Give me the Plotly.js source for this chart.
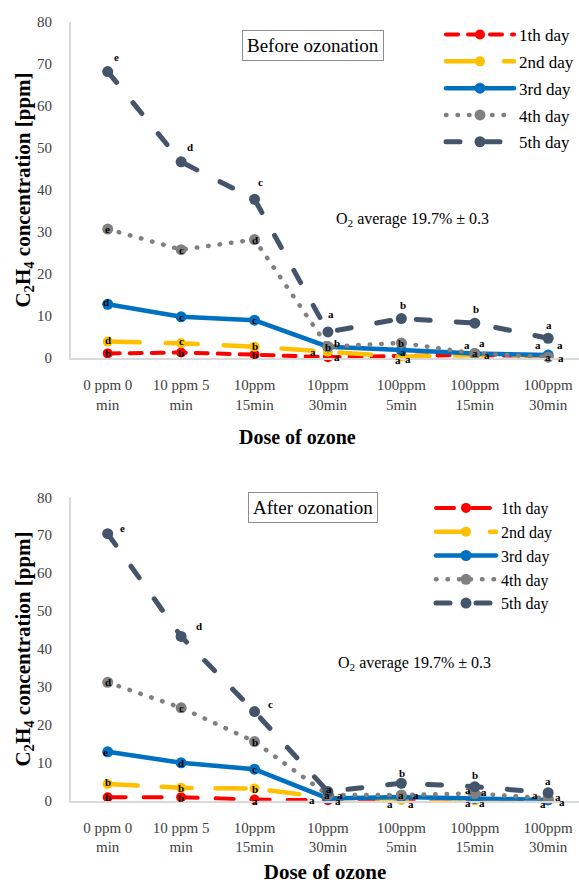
<!DOCTYPE html>
<html>
<head>
<meta charset="utf-8">
<script src="https://cdn.plot.ly/plotly-3.0.1.min.js"></script>
<style>html,body{margin:0;padding:0;background:#fff;overflow:hidden;}#chart{width:579px;height:884px;}</style>
</head>
<body>
<div id="chart"></div>
<script>
// ---------- DATA ----------
const categories = ['0 ppm 0<br>min', '10 ppm 5<br>min', '10ppm<br>15min', '10ppm<br>30min', '100ppm<br>5min', '100ppm<br>15min', '100ppm<br>30min'];
const seriesNames = ['1th day', '2nd day', '3rd day', '4th day', '5th day'];

// Before ozonation (C2H4 ppm)
const before1 = [1.1, 1.3, 0.8, 0.2, 0.5, 0.7, 0.5];
const before2 = [3.9, 3.5, 2.7, 1.5, 0.3, 0.7, 0.6];
const before3 = [12.8, 9.8, 9.0, 2.7, 1.9, 1.1, 0.7];
const before4 = [30.7, 25.8, 28.2, 2.7, 3.6, 1.1, 0.2];
const before5 = [68.2, 46.7, 37.8, 6.2, 9.4, 8.3, 4.7];

// After ozonation (C2H4 ppm)
const after1 = [0.9, 0.9, 0.3, 0.1, 0.3, 0.2, 0.2];
const after2 = [4.4, 3.4, 3.2, 0.8, 0.2, 0.1, 0.1];
const after3 = [12.9, 10.0, 8.3, 0.6, 1.0, 0.6, 0.2];
const after4 = [31.2, 24.5, 15.6, 1.5, 1.5, 1.9, 0.6];
const after5 = [70.4, 43.3, 23.5, 2.4, 4.6, 3.7, 2.1];

// Significance letters
const beforeLetters1 = ['b', 'b', 'b', 'a', 'a', 'a', 'a'];
const beforeLetters2 = ['d', 'c', 'b', 'a', 'a', 'a', 'a'];
const beforeLetters3 = ['d', 'c', 'c', 'b', 'a', 'a', 'a'];
const beforeLetters4 = ['e', 'c', 'd', 'b', 'b', 'a', 'a'];
const beforeLetters5 = ['e', 'd', 'c', 'a', 'b', 'b', 'a'];

const afterLetters1 = ['b', 'b', 'a', 'a', 'a', 'a', 'a'];
const afterLetters2 = ['b', 'b', 'b', 'a', 'a', 'a', 'a'];
const afterLetters3 = ['e', 'd', 'c', 'a', 'a', 'a', 'a'];
const afterLetters4 = ['d', 'c', 'b', 'a', 'a', 'a', 'a'];
const afterLetters5 = ['e', 'd', 'c', 'a', 'b', 'b', 'a'];

const yTickVals = [0, 10, 20, 30, 40, 50, 60, 70, 80];

// ---------- STYLE ----------
const FONT = 'Liberation Serif, Times New Roman, serif';
const W = 579, H = 884, ML = 71;
const px2x = p => (p - ML) / (W - ML);
const px2y = p => 1 - p / H;
const colors = ['#FF0000', '#FFC000', '#0070C0', '#808080', '#44546A'];
const widths = [4, 4.5, 4.5, 4.5, 5];
const dashesTop = ['12px,10px', '32px,26px', 'solid', '0.5px,11px', '14px,26px'];
const dashesBot = ['18px,18px', '30px,24px', 'solid', '0.5px,11px', '14px,26px'];
const markerSizes = [10, 10, 11, 11, 11];

// label offsets (px) relative to each marker, [dx, dy(up)]
const offTop = [
  [[0,0],[0,0],[0,0],[9,0],[7,-3],[12,0],[13,-2]],
  [[0,2],[0,2],[0,1],[-15,0],[-3,-3],[-8,10],[-10,10]],
  [[-2,2],[0,0],[0,0],[9,4],[2,-2],[7,10],[12,10]],
  [[0,0],[0,0],[0,0],[0,0],[0,0],[0,0],[0,0]],
  [[9,15],[9,15],[6,17],[3,18],[2,14],[1,14],[1,13]]
];
const offBot = [
  [[0,0],[0,-1],[0,-1],[-16,0],[10,-4],[-7,-3],[14,-2]],
  [[0,2],[0,0],[0,0],[10,-3],[-11,-4],[7,-3],[-5,-4]],
  [[-2,0],[0,0],[0,0],[12,3],[15,2],[9,6],[10,3]],
  [[0,0],[0,0],[0,0],[-1,0],[0,0],[-7,3],[-13,3]],
  [[15,6],[18,10],[16,8],[1,3],[1,10],[0,12],[0,12]]
];

const topSeries = [before1, before2, before3, before4, before5];
const botSeries = [after1, after2, after3, after4, after5];
const topLetters = [beforeLetters1, beforeLetters2, beforeLetters3, beforeLetters4, beforeLetters5];
const botLetters = [afterLetters1, afterLetters2, afterLetters3, afterLetters4, afterLetters5];

const traces = [];
function addTraces(series, xa, ya, legendId, dashes, suffix) {
  series.forEach((vals, i) => {
    traces.push({
      type: 'scatter', mode: 'lines+markers',
      x: categories, y: vals, xaxis: xa, yaxis: ya,
      name: seriesNames[i], legend: legendId, legendgroup: suffix + i,
      line: {color: colors[i], width: widths[i], dash: dashes[i]},
      marker: {color: colors[i], size: markerSizes[i], symbol: 'circle'},
      cliponaxis: false, hoverinfo: 'x+y'
    });
  });
}
addTraces(topSeries, 'x', 'y', 'legend', dashesTop, 't');
addTraces(botSeries, 'x2', 'y2', 'legend2', dashesBot, 'b');

const annotations = [];
function addLetters(series, letters, offs, xa, ya) {
  series.forEach((vals, i) => {
    vals.forEach((v, j) => {
      annotations.push({
        x: categories[j], y: v, xref: xa, yref: ya, text: '<b>' + letters[i][j] + '</b>',
        showarrow: false, xshift: offs[i][j][0], yshift: offs[i][j][1],
        font: {family: FONT, size: 11, color: '#000'}
      });
    });
  });
}
addLetters(topSeries, topLetters, offTop, 'x', 'y');
addLetters(botSeries, botLetters, offBot, 'x2', 'y2');

annotations.push(
  {xref: 'paper', yref: 'paper', x: px2x(313), y: px2y(30), text: 'Before ozonation', showarrow: false,
   font: {family: FONT, size: 19, color: '#000'}, bordercolor: '#8c8c8c', borderwidth: 1, borderpad: 4, bgcolor: '#fff'},
  {xref: 'paper', yref: 'paper', x: px2x(313), y: px2y(508), text: 'After ozonation', showarrow: false,
   font: {family: FONT, size: 19, color: '#000'}, bordercolor: '#8c8c8c', borderwidth: 1, borderpad: 4, bgcolor: '#fff'},
  {xref: 'paper', yref: 'paper', x: px2x(491), y: px2y(208), text: 'O<sub>2</sub> average 19.7% ± 0.3', showarrow: false,
   font: {family: FONT, size: 16, color: '#000'}},
  {xref: 'paper', yref: 'paper', x: px2x(493), y: px2y(675), text: 'O<sub>2</sub> average 19.7% ± 0.3', showarrow: false,
   font: {family: FONT, size: 16, color: '#000'}},
  {xref: 'paper', yref: 'paper', x: px2x(297), y: px2y(437), text: '<b>Dose of ozone</b>', showarrow: false,
   font: {family: FONT, size: 20, color: '#000'}}
);

function xAxis(anchor, title, size) {
  return {
    type: 'category', anchor: anchor, domain: [0, 1], range: [-0.5, 6.42],
    showline: true, linecolor: '#D9D9D9', linewidth: 2, showgrid: false, zeroline: false,
    ticks: '', ticklabelstandoff: 12,
    tickfont: {family: FONT, size: 15, color: '#404040'},
    title: {text: title, font: {family: FONT, size: size, color: '#000'}, standoff: 16}
  };
}
function yAxis(anchor, domain) {
  return {
    anchor: anchor, domain: domain, range: [0, 80], tickvals: yTickVals,
    showline: true, linecolor: '#D9D9D9', linewidth: 2, showgrid: false, zeroline: false,
    ticks: '', ticklabelstandoff: 14,
    tickfont: {family: FONT, size: 15, color: '#404040'},
    title: {text: '<b>C<sub>2</sub>H<sub>4</sub> concentration [ppm]</b>', font: {family: FONT, size: 21, color: '#000'}, standoff: 0}
  };
}

const legendBase = {
  bgcolor: 'rgba(0,0,0,0)', borderwidth: 0,
  traceorder: 'grouped', xanchor: 'left', yanchor: 'top', itemclick: false
};

const layout = {
  width: W, height: H, margin: {l: ML, r: 0, t: 0, b: 0, autoexpand: false},
  paper_bgcolor: '#fff', plot_bgcolor: '#fff', showlegend: true,
  font: {family: FONT},
  xaxis: xAxis('y', '', 20), yaxis: yAxis('x', [(H - 358) / H, (H - 22) / H]),
  xaxis2: xAxis('y2', '<b>Dose of ozone</b>', 21), yaxis2: yAxis('x2', [(H - 800.7) / H, (H - 497.3) / H]),
  legend: Object.assign({}, legendBase, {x: px2x(441), y: px2y(17), tracegroupgap: 1.7, itemwidth: 68,
    font: {family: FONT, size: 17, color: '#000'}}),
  legend2: Object.assign({}, legendBase, {x: px2x(431), y: px2y(491), tracegroupgap: 0, itemwidth: 60,
    font: {family: FONT, size: 16, color: '#000'}}),
  annotations: annotations
};

Plotly.newPlot('chart', traces, layout, {displayModeBar: false}).then(() => {
  document.querySelectorAll('.scatterlayer .js-line, .legendlines path').forEach(p => {
    p.style.strokeLinecap = 'round';
  });
});
</script>
</body>
</html>
